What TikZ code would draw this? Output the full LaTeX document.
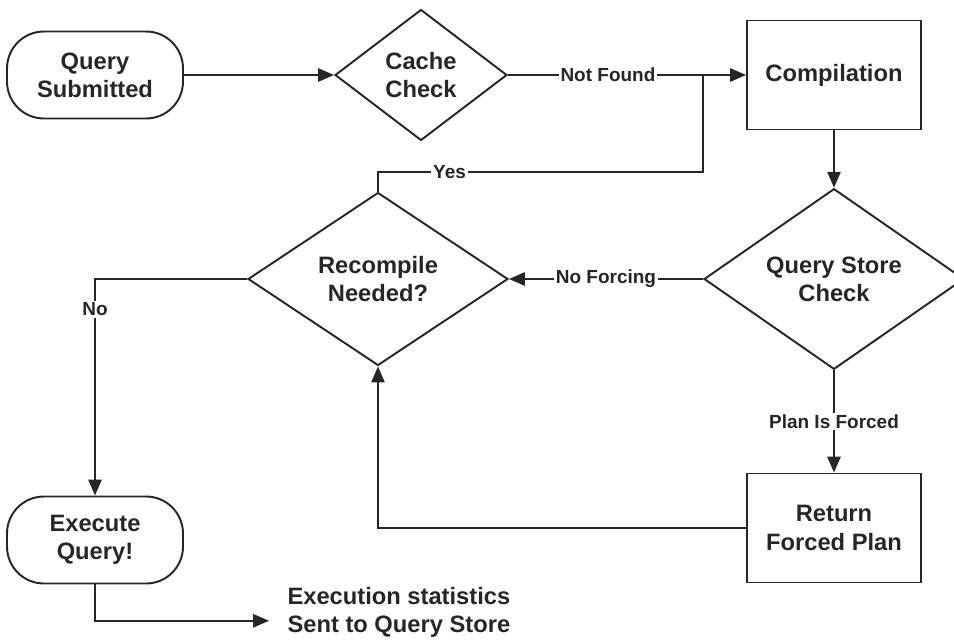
\documentclass[tikz,border=0pt]{standalone}
\usepackage{fontspec}
\setmainfont{Liberation Sans}
\usetikzlibrary{shapes,% diamonds for the decisions
arrows.meta}
\tikzset{every node/.style={font=\bfseries\fontsize{13.5}{16}\selectfont, text=black!85, align=center},
  terminal/.style={draw, rectangle, rounded corners=21pt, minimum width=3.52cm, minimum height=1.74cm},
  process/.style={draw, rectangle, minimum width=3.48cm, minimum height=2.18cm},
  decision/.style={draw, diamond, inner sep=0pt, minimum width=5.2cm, minimum height=3.46cm},
  lbl/.style={fill=white, inner sep=1pt, font=\bfseries\fontsize{10.8}{13}\selectfont}}

\begin{document}
\begin{tikzpicture}[x=0.02cm, y=-0.02cm, line width=1.1pt, draw=black!85,
  >={Triangle[length=9pt,width=7.5pt]}]
  \useasboundingbox (0,0) rectangle (954,643);
  % boxes and decisions
  \node[terminal] (qsub) at (95,75) {Query\\Submitted};
  \node[decision, minimum width=3.44cm, minimum height=2.62cm] (cache) at (421,75) {Cache\\Check};
  \node[process] (comp) at (834,75) {Compilation};
  \node[decision] (rec) at (378,279) {Recompile\\Needed?};
  \node[decision] (qsc) at (834,279) {Query Store\\Check};
  \node[process] (rfp) at (834,528) {Return\\Forced Plan};
  \node[terminal] (exec) at (95,540) {Execute\\Query!};
  \node[anchor=west, inner xsep=10pt, align=left] (stats) at (269,612) {Execution statistics\\Sent to Query Store};
  \coordinate (join) at (703,75);
  \coordinate (yesbend) at (703,172);
  % connectors
  \draw[->] (qsub) -- (cache);
  \draw[->] (cache) -- node[lbl, pos=0.42]{Not Found} (comp);
  \draw (rec.north) |- node[lbl, pos=0.61]{Yes} (yesbend) -- (join);
  \draw[->] (comp) -- (qsc);
  \draw[->] (qsc) -- node[lbl]{No Forcing} (rec);
  \draw[->] (qsc) -- node[lbl]{Plan Is Forced} (rfp);
  \draw[->] (rfp.west) -| (rec.south);
  \draw[->] (rec.west) -| node[lbl, pos=0.57]{No} (exec.north);
  \draw[->] (exec.south) |- ([yshift=-5pt]stats.west);
\end{tikzpicture}
\end{document}
